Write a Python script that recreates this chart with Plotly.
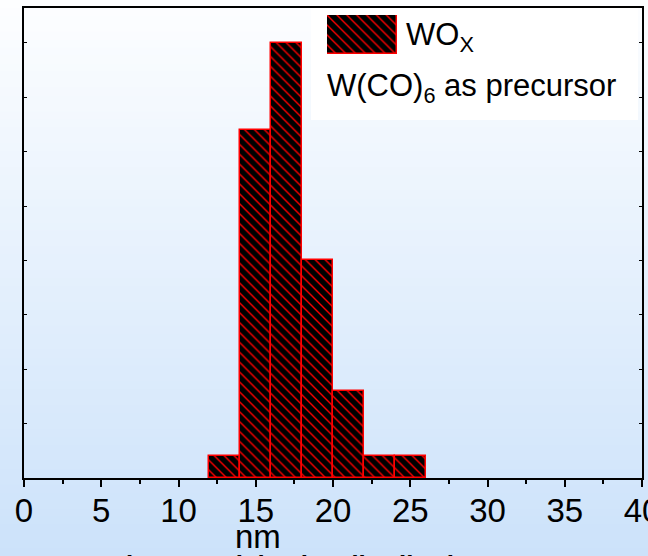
import plotly.graph_objects as go

# Particle size histogram of WOx (W(CO)6 precursor)
bin_edges = [12, 14, 16, 18, 20, 22, 24, 26]
counts = [1, 16, 20, 10, 4, 1, 1]
x_tick_values = [0, 5, 10, 15, 20, 25, 30, 35, 40]
x_tick_labels = ["0", "5", "10", "15", "20", "25", "30", "35", "40"]
series_label = "WO<sub>X</sub>"
note_label = "W(CO)<sub>6</sub> as precursor"
x_title = "nm"
caption = "Fig. 2 Particle size distribution"

W, H = 648, 556
L, R, T, B = 24, 6, 8, 78
PW, PH = W - L - R, H - T - B


def px_x(x):
    return (x - L) / PW


def px_y(y):
    return (H - B - y) / PH


centers = [(a + b) / 2 for a, b in zip(bin_edges[:-1], bin_edges[1:])]
widths = [b - a for a, b in zip(bin_edges[:-1], bin_edges[1:])]

hatch = dict(shape="\\", size=7, solidity=0.2, fgcolor="#ff0000", bgcolor="#000000", fillmode="replace")

fig = go.Figure()
fig.add_trace(go.Bar(
    x=centers, y=counts, width=widths,
    marker=dict(color="#000000", pattern=hatch, line=dict(color="#ff0000", width=1.5)),
    showlegend=False, xaxis="x", yaxis="y",
))
# legend swatch
fig.add_trace(go.Bar(
    x=[0], y=[1], width=[1],
    marker=dict(color="#000000", pattern=hatch, line=dict(color="#ff0000", width=1.5)),
    showlegend=False, xaxis="x2", yaxis="y2",
))

# vertical background gradient (white -> light blue)
shapes = []
N = 70
top = (253, 254, 255)
bot = (204, 226, 250)
for i in range(N):
    t = (i + 0.5) / N
    c = tuple(round(top[k] + (bot[k] - top[k]) * t) for k in range(3))
    y0 = i * H / N
    y1 = (i + 1) * H / N + 1
    shapes.append(dict(type="rect", xref="paper", yref="paper", layer="below",
                       x0=px_x(-2), x1=px_x(W + 2), y0=px_y(y1), y1=px_y(y0),
                       line=dict(width=0), fillcolor="rgb(%d,%d,%d)" % c))
# legend box
shapes.append(dict(type="rect", xref="paper", yref="paper", layer="below",
                   x0=px_x(311), x1=px_x(638), y0=px_y(120), y1=px_y(T),
                   line=dict(width=0), fillcolor="#ffffff"))

tick_font = dict(family="Liberation Sans, Arial", size=33, color="#000000")
text_font = dict(family="Liberation Sans, Arial", size=31, color="#000000")

fig.update_layout(
    template="none",
    width=W, height=H,
    margin=dict(l=L, r=R, t=T, b=B, pad=0),
    paper_bgcolor="rgba(0,0,0,0)",
    plot_bgcolor="rgba(0,0,0,0)",
    bargap=0,
    shapes=shapes,
    xaxis=dict(
        range=[0, 40], tickvals=x_tick_values, ticktext=x_tick_labels,
        ticks="outside", ticklen=7, tickwidth=1.5, tickcolor="#000000",
        minor=dict(dtick=2.5, tick0=0, ticks="outside", ticklen=4, tickwidth=1.5, tickcolor="#000000"),
        showline=True, linewidth=2, linecolor="#000000", mirror=True,
        showgrid=False, zeroline=False, tickfont=tick_font, automargin=False,
        ticklabeloverflow="allow", ticklabelstandoff=-5,
    ),
    xaxis3=dict(
        range=[0, 40], overlaying="x", side="top", anchor="y", dtick=2.5, tick0=0,
        ticks="inside", ticklen=3, tickwidth=1, tickcolor="#000000",
        showticklabels=False, showline=False, showgrid=False, zeroline=False,
    ),
    yaxis=dict(
        range=[0, 21.6], dtick=2.5, tick0=0,
        ticks="inside", ticklen=3, tickwidth=1, tickcolor="#000000",
        showticklabels=False, showline=True, linewidth=2, linecolor="#000000",
        mirror="ticks", showgrid=False, zeroline=False, automargin=False,
    ),
    xaxis2=dict(domain=[px_x(327), px_x(397)], range=[-0.5, 0.5], anchor="y2",
                visible=False, fixedrange=True),
    yaxis2=dict(domain=[px_y(54), px_y(15)], range=[0, 1], anchor="x2",
                visible=False, fixedrange=True),
    annotations=[
        dict(text=series_label, xref="paper", yref="paper", x=px_x(404), y=px_y(37),
             xanchor="left", yanchor="middle", showarrow=False, font=text_font),
        dict(text=note_label, xref="paper", yref="paper", x=px_x(325), y=px_y(88),
             xanchor="left", yanchor="middle", showarrow=False, font=text_font),
        dict(text=x_title, xref="paper", yref="paper", x=px_x(258), y=px_y(536),
             xanchor="center", yanchor="middle", showarrow=False, font=tick_font),
        dict(text="<b>" + caption + "</b>", xref="paper", yref="paper", x=px_x(108), y=px_y(548),
             xanchor="left", yanchor="top", showarrow=False,
             font=dict(family="Liberation Sans, Arial", size=26, color="#000000")),
    ],
)

fig.write_html("out.html")
